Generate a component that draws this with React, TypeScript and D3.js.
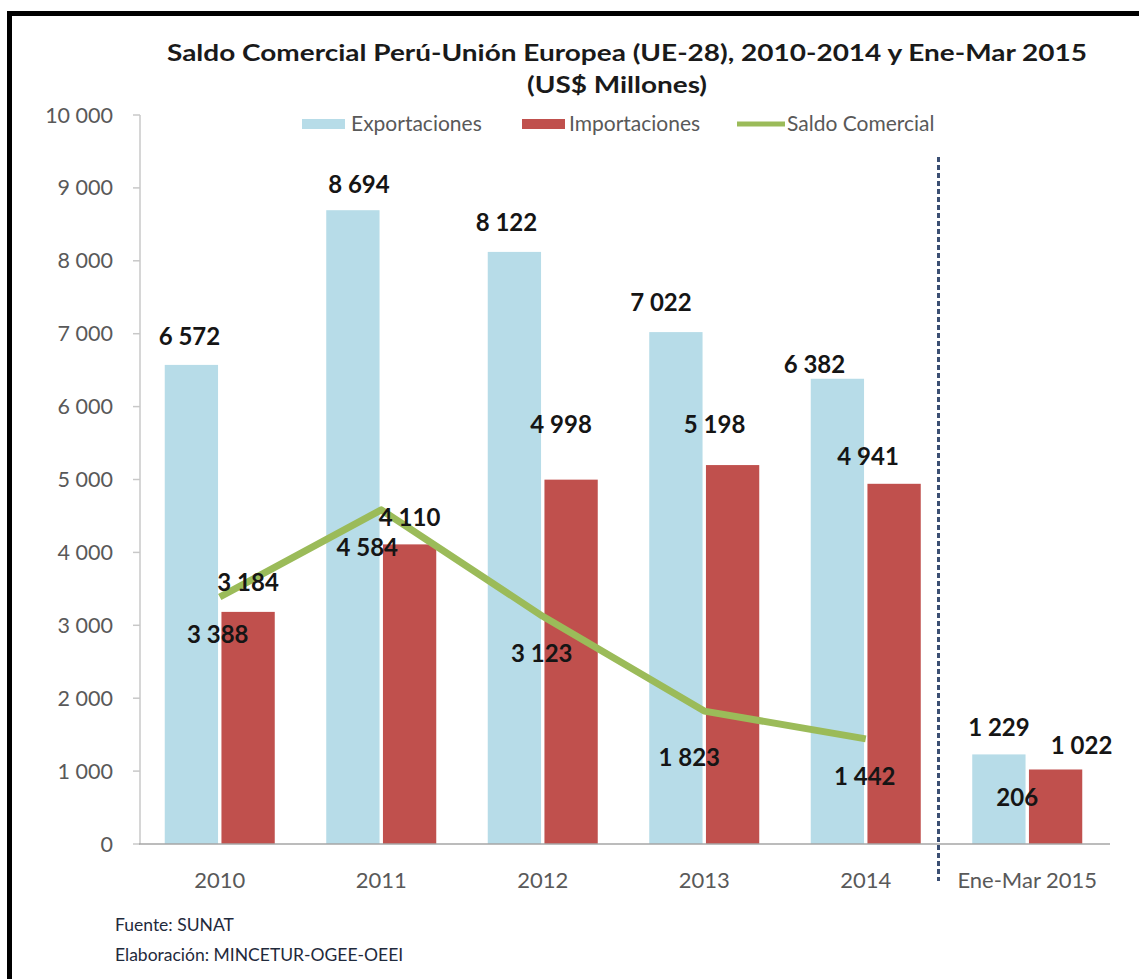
import React from "react";
import * as d3 from "d3";

const categories = ["2010", "2011", "2012", "2013", "2014", "Ene-Mar 2015"];
const exportaciones = [6572, 8694, 8122, 7022, 6382, 1229];
const importaciones = [3184, 4110, 4998, 5198, 4941, 1022];
const saldo = [3388, 4584, 3123, 1823, 1442, 206];
const yTicks = [0, 1000, 2000, 3000, 4000, 5000, 6000, 7000, 8000, 9000, 10000];
const lineYears = 5; // saldo line drawn for the annual categories only

// label nudges (px) relative to their marks
const expDx = [-2, 6, -8, -15, -23, 0];
const expDy = [-28, -26, -29, -29, -14, -27];
const impDx = [0, 0, -10, -18, -26, 26];
const impDy = [-29, -27, -55, -40, -27, -24];
const salDx = [-2, -14, -1, -15, -1, -10];
const salDy = [38, 38, 37, 46, 38, -31];

const W = 1139;
const H = 979;
const C_EXP = "#b7dce8";
const C_IMP = "#c0504d";
const C_SAL = "#9bbb59";
const FONT = "Lato, 'Open Sans', sans-serif";

const fmt = d3.formatLocale({ thousands: " ", grouping: [3], decimal: ",", currency: ["", ""] }).format(",d");

export default function App() {
  const y = d3.scaleLinear().domain([0, 10000]).range([844, 115]);
  const x = d3.scaleBand().domain(categories).range([139, 1108]);
  const xi = d3.scaleBand().domain(["exp", "imp"]).range([-55, 55]).paddingInner(0.06);
  const cx = (c: string) => (x(c) as number) + x.bandwidth() / 2;
  const bw = xi.bandwidth();

  const line = d3
    .line<number>()
    .x((_, i) => cx(categories[i]))
    .y((d) => y(d));

  const dividerX = (x("Ene-Mar 2015") as number) - 8;

  return (
    <svg width={W} height={H} style={{ position: "absolute", left: 0, top: 0, display: "block" }} fontFamily={FONT}>
      <rect x={0} y={0} width={W} height={H} fill="#ffffff" />
      {/* frame */}
      <path d={`M9.5,${H} V13.5 H${W}`} fill="none" stroke="#000" strokeWidth={5} />

      {/* title */}
      <text x={627} y={61} textAnchor="middle" fontSize={23} fontWeight={700} fill="#1a1a1a" textLength={920} lengthAdjust="spacingAndGlyphs">
        Saldo Comercial Perú-Unión Europea (UE-28), 2010-2014 y Ene-Mar 2015
      </text>
      <text x={617} y={93} textAnchor="middle" fontSize={23} fontWeight={700} fill="#1a1a1a" textLength={180} lengthAdjust="spacingAndGlyphs">
        (US$ Millones)
      </text>

      {/* legend */}
      <g fontSize={21} fill="#595959">
        <rect x={302} y={119} width={43} height={10} fill={C_EXP} />
        <text x={351} y={131}>Exportaciones</text>
        <rect x={522} y={119} width={43} height={10} fill={C_IMP} />
        <text x={569} y={131}>Importaciones</text>
        <line x1={737} x2={785} y1={124} y2={124} stroke={C_SAL} strokeWidth={5} />
        <text x={787} y={131}>Saldo Comercial</text>
      </g>

      {/* y axis */}
      <line x1={140} x2={140} y1={y(10000)} y2={y(0)} stroke="#c8c8c8" strokeWidth={1.5} />
      {yTicks.map((t) => (
        <g key={t}>
          <line x1={133} x2={140} y1={y(t)} y2={y(t)} stroke="#c8c8c8" strokeWidth={1.5} />
          <text x={113} y={y(t)} dy="0.35em" textAnchor="end" fontSize={21.5} fill="#595959">
            {fmt(t)}
          </text>
        </g>
      ))}

      {/* bars */}
      {categories.map((c, i) => (
        <g key={c}>
          <rect x={cx(c) + (xi("exp") as number)} y={y(exportaciones[i])} width={bw} height={y(0) - y(exportaciones[i])} fill={C_EXP} />
          <rect x={cx(c) + (xi("imp") as number)} y={y(importaciones[i])} width={bw} height={y(0) - y(importaciones[i])} fill={C_IMP} />
        </g>
      ))}

      {/* x axis */}
      <line x1={139} x2={1110} y1={y(0)} y2={y(0)} stroke="#a6a6a6" strokeWidth={1.5} />
      {categories.map((c) => (
        <text key={c} x={cx(c)} y={888} textAnchor="middle" fontSize={22} fill="#595959">
          {c}
        </text>
      ))}

      {/* divider */}
      <line x1={dividerX} x2={dividerX} y1={157} y2={881} stroke="#3b4f73" strokeWidth={3} strokeDasharray="5,3" />

      {/* saldo line */}
      <path d={line(saldo.slice(0, lineYears)) as string} fill="none" stroke={C_SAL} strokeWidth={7} strokeLinejoin="round" />

      {/* data labels */}
      <g fontSize={24} fontWeight={700} fill="#151515" textAnchor="middle">
        {categories.map((c, i) => (
          <g key={c}>
            <text x={cx(c) + (xi("exp") as number) + bw / 2 + expDx[i]} y={y(exportaciones[i]) + expDy[i]} dy="0.35em">
              {fmt(exportaciones[i])}
            </text>
            <text x={cx(c) + (xi("imp") as number) + bw / 2 + impDx[i]} y={y(importaciones[i]) + impDy[i]} dy="0.35em">
              {fmt(importaciones[i])}
            </text>
            <text x={cx(c) + salDx[i]} y={y(saldo[i]) + salDy[i]} dy="0.35em">
              {fmt(saldo[i])}
            </text>
          </g>
        ))}
      </g>

      {/* footer */}
      <g fontSize={17.5} fill="#1f2a3c">
        <text x={115} y={931}>Fuente: SUNAT</text>
        <text x={115} y={961}>Elaboración: MINCETUR-OGEE-OEEI</text>
      </g>
    </svg>
  );
}
